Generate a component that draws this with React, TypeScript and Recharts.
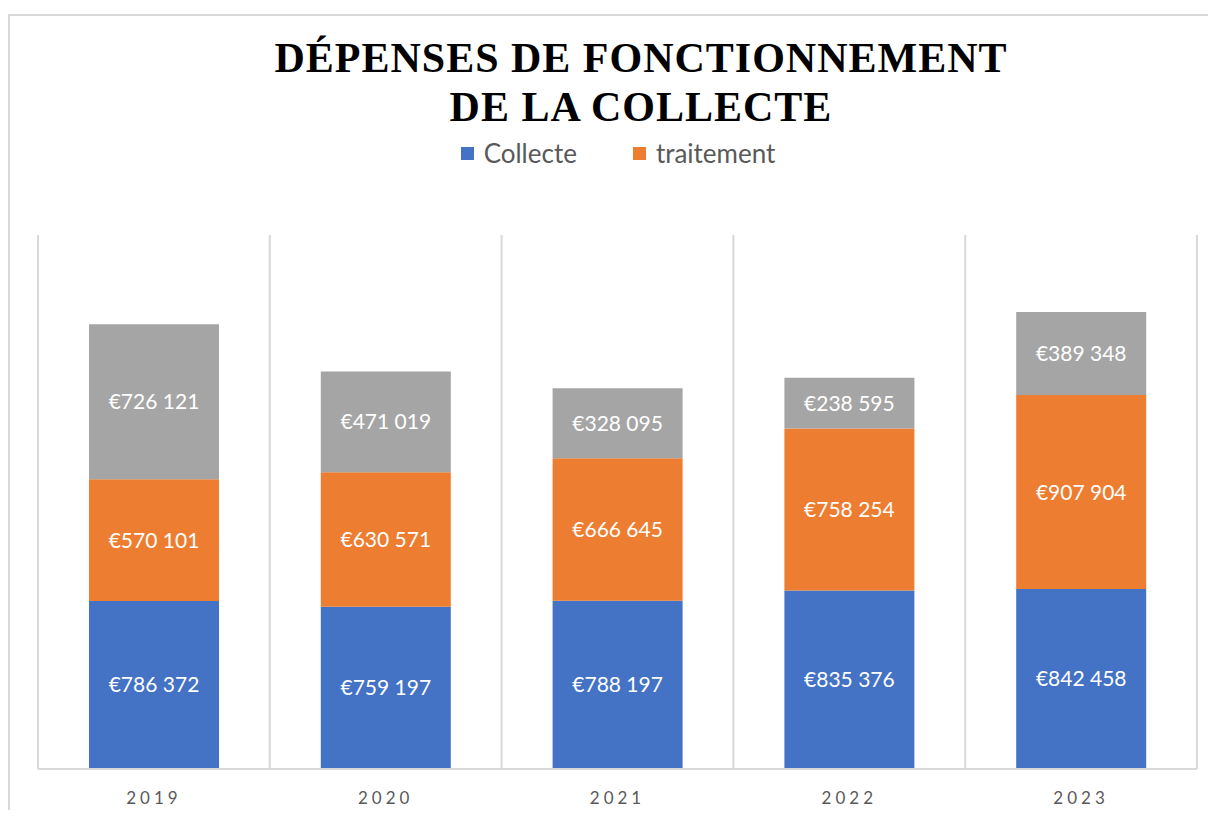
import React from "react";
import {
  BarChart,
  Bar,
  XAxis,
  YAxis,
  CartesianGrid,
  Legend,
  LabelList,
} from "recharts";

const years = ["2019", "2020", "2021", "2022", "2023"];
const collecte = [786372, 759197, 788197, 835376, 842458];
const traitement = [570101, 630571, 666645, 758254, 907904];
const autres = [726121, 471019, 328095, 238595, 389348];

const chartData = years.map((year, i) => ({
  year,
  collecte: collecte[i],
  traitement: traitement[i],
  autres: autres[i],
}));

const euro = (v: number) =>
  "€" + String(v).replace(/\B(?=(\d{3})+(?!\d))/g, " ");

const labelStyle = {
  fill: "#ffffff",
  fontSize: 21,
  fontFamily: "Lato, sans-serif",
};

const LegendContent = ({ payload }: any) => (
  <div
    style={{
      display: "flex",
      justifyContent: "center",
      gap: 56,
      fontFamily: "Lato, sans-serif",
      fontSize: 26,
      lineHeight: "30px",
      color: "#595959",
    }}
  >
    {(payload || [])
      .filter((p: any) => p.type !== "none")
      .map((p: any) => (
        <div key={p.value} style={{ display: "flex", alignItems: "center" }}>
          <span
            style={{
              width: 13,
              height: 13,
              background: p.color,
              marginRight: 10,
              display: "inline-block",
            }}
          />
          {p.value}
        </div>
      ))}
  </div>
);

export default function App() {
  return (
    <div
      style={{
        marginTop: 6,
        width: 1208,
        height: 796,
        boxSizing: "border-box",
        borderTop: "2px solid #d9d9d9",
        borderLeft: "2px solid #d9d9d9",
        position: "relative",
        overflow: "hidden",
        background: "#fff",
      }}
    >
      <div
        style={{
          position: "absolute",
          left: 131,
          top: 18,
          width: 1000,
          textAlign: "center",
          fontFamily: "'Liberation Serif', serif",
          fontWeight: "bold",
          fontSize: 42,
          lineHeight: "49px",
          letterSpacing: 1,
          color: "#000",
          zIndex: 2,
        }}
      >
        DÉPENSES DE FONCTIONNEMENT
        <br />
        DE LA COLLECTE
      </div>
      <BarChart
        width={1206}
        height={794}
        data={chartData}
        margin={{ top: 189, right: 19, bottom: 11, left: 28 }}
        barCategoryGap="22%"
      >
        <CartesianGrid
          horizontal={false}
          stroke="#d9d9d9"
          strokeWidth={2}
          verticalCoordinatesGenerator={({ offset }: any) =>
            years
              .map((_, i) => offset.left + (i * offset.width) / years.length)
              .concat([offset.left + offset.width])
          }
        />
        <XAxis
          dataKey="year"
          height={30}
          axisLine={{ stroke: "#d9d9d9", strokeWidth: 2 }}
          tickLine={false}
          tick={{
            fill: "#595959",
            fontSize: 17,
            fontFamily: "Lato, sans-serif",
            letterSpacing: 4,
          }}
          tickMargin={17}
        />
        <YAxis hide domain={[0, 2500000]} />
        <Legend
          verticalAlign="top"
          height={30}
          content={<LegendContent />}
          wrapperStyle={{ top: 122, left: 5, width: 1206 }}
        />
        <Bar
          dataKey="collecte"
          name="Collecte"
          stackId="a"
          fill="#4472C4"
          isAnimationActive={false}
        >
          <LabelList
            dataKey="collecte"
            position="center"
            formatter={(v: any) => euro(v)}
            style={labelStyle}
          />
        </Bar>
        <Bar
          dataKey="traitement"
          name="traitement"
          stackId="a"
          fill="#ED7D31"
          isAnimationActive={false}
        >
          <LabelList
            dataKey="traitement"
            position="center"
            formatter={(v: any) => euro(v)}
            style={labelStyle}
          />
        </Bar>
        <Bar
          dataKey="autres"
          name="autres"
          stackId="a"
          fill="#A5A5A5"
          legendType="none"
          isAnimationActive={false}
        >
          <LabelList
            dataKey="autres"
            position="center"
            formatter={(v: any) => euro(v)}
            style={labelStyle}
          />
        </Bar>
      </BarChart>
    </div>
  );
}
